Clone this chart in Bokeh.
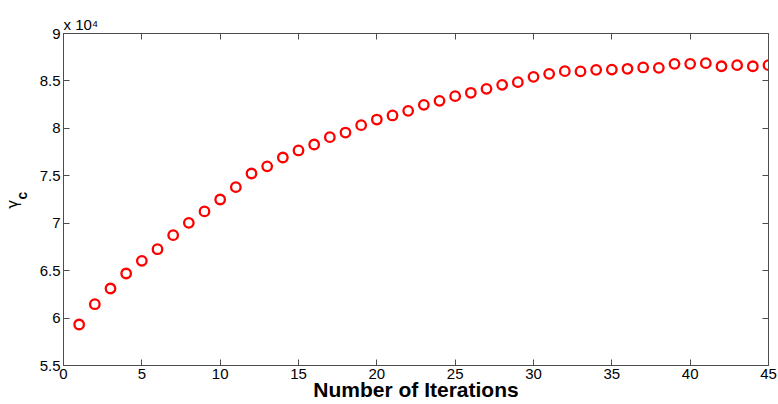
import math
from bokeh.plotting import figure
from bokeh.models import (Range1d, LinearAxis, FixedTicker, CustomJSTickFormatter,
                          ColumnDataSource)
from bokeh.embed import file_html
from bokeh.resources import INLINE

# ---- data ----
iterations = list(range(1, 46))
gamma_c = [59320, 61460, 63120, 64700, 66030, 67260, 68740, 70040, 71240, 72500,
           73800, 75240, 76000, 76930, 77670, 78300, 79070, 79560, 80340, 80930,
           81360, 81850, 82480, 82900, 83390, 83750, 84170, 84590, 84870, 85430,
           85750, 86030, 86000, 86170, 86200, 86280, 86420, 86380, 86800, 86800,
           86870, 86550, 86660, 86550, 86660]
x_ticks = [0, 5, 10, 15, 20, 25, 30, 35, 40, 45]
y_ticks = [55000, 60000, 65000, 70000, 75000, 80000, 85000, 90000]
x_label = "Number of Iterations"
y_label_main = "γ"
y_label_sub = "c"
multiplier = "x 10⁴"

FONT = "Liberation Sans"
AXIS_COLOR = "#4d4d4d"
NB = "\u00a0"

p = figure(width=778, height=404, output_backend="svg", toolbar_location=None,
           x_range=Range1d(0, 45), y_range=Range1d(55000, 90000),
           min_border_left=62, min_border_right=10, min_border_top=33,
           min_border_bottom=39, x_axis_location=None, y_axis_location=None)
p.background_fill_color = "white"
p.border_fill_color = "white"
p.outline_line_color = None
p.xgrid.visible = False
p.ygrid.visible = False

# multiplier shown as the title, above the top-left corner
p.title.text = multiplier
p.title.align = "left"
p.title.text_font = FONT
p.title.text_font_size = "15px"
p.title.text_font_style = "normal"
p.title.text_color = "black"
p.title.standoff = 1
p.title.offset = 0

fmt_y = CustomJSTickFormatter(code="return String(Math.round(tick/1000)/10);")
empty = CustomJSTickFormatter(code="return '';")

def style(ax, labels=True):
    ax.axis_line_color = AXIS_COLOR
    ax.axis_line_width = 1
    ax.major_tick_line_color = AXIS_COLOR
    ax.major_tick_in = 6
    ax.major_tick_out = 0
    ax.minor_tick_line_color = None
    ax.major_label_text_font = FONT
    ax.major_label_text_font_size = "15px" if labels else "0px"
    ax.major_label_text_color = "black"
    ax.major_label_standoff = 3 if labels else 0

xb = LinearAxis(ticker=FixedTicker(ticks=x_ticks), axis_label=x_label)
style(xb)
xb.axis_label_text_font = FONT
xb.axis_label_text_font_size = "21px"
xb.axis_label_text_font_style = "bold"
xb.axis_label_text_color = "black"
xb.axis_label_standoff = -4
p.add_layout(xb, "below")

xt = LinearAxis(ticker=FixedTicker(ticks=x_ticks), formatter=empty)
style(xt, labels=False)
p.add_layout(xt, "above")

# inner left axis: ticks, tick labels and the subscript "c"
yl = LinearAxis(ticker=FixedTicker(ticks=y_ticks), formatter=fmt_y,
                axis_label=NB + NB + y_label_sub)
style(yl)
yl.axis_label_text_font = FONT
yl.axis_label_text_font_size = "14px"
yl.axis_label_text_font_style = "bold"
yl.axis_label_text_color = "black"
yl.axis_label_standoff = 7
p.add_layout(yl, "left")

# outer left axis: only carries the gamma of the y title
yg = LinearAxis(ticker=FixedTicker(ticks=[]), formatter=empty,
                axis_label=y_label_main + NB + NB)
yg.axis_line_color = None
yg.major_tick_line_color = None
yg.minor_tick_line_color = None
yg.major_label_text_font_size = "0px"
yg.major_label_standoff = 0
yg.axis_label_text_font = "DejaVu Sans"
yg.axis_label_text_font_size = "15px"
yg.axis_label_text_font_style = "normal"
yg.axis_label_text_color = "black"
yg.axis_label_standoff = -11
p.add_layout(yg, "left")

yr = LinearAxis(ticker=FixedTicker(ticks=y_ticks), formatter=empty)
style(yr, labels=False)
p.add_layout(yr, "right")

src = ColumnDataSource(data=dict(x=iterations, y=gamma_c))
p.scatter("x", "y", source=src, marker="circle", size=9.5, fill_color=None,
          line_color="#ff0000", line_width=2.3)

open("out.html", "w").write(file_html(p, INLINE))
